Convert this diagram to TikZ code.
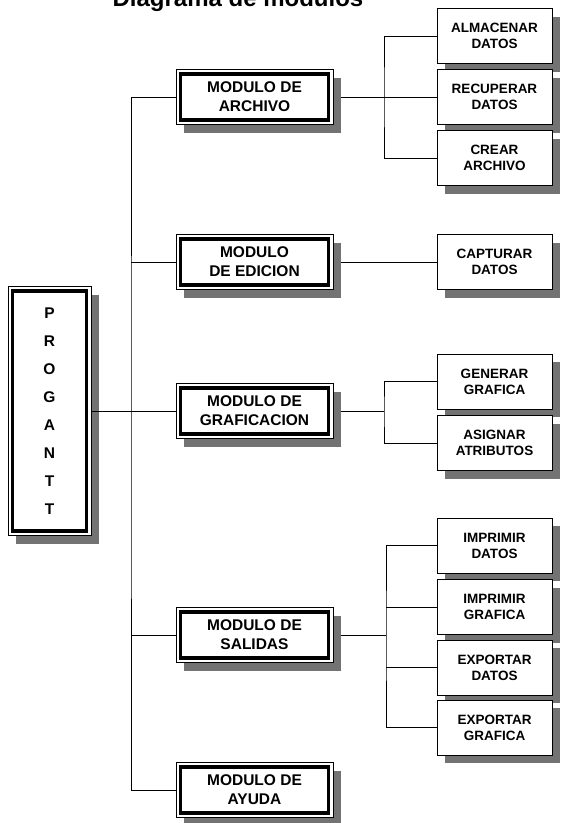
\documentclass[tikz,border=0pt]{standalone}
\usepackage{fontspec}
\setmainfont{Liberation Sans}
\usetikzlibrary{shadows}
\begin{document}
\begin{tikzpicture}[x=1pt,y=-1pt,
 shd/.style={general shadow={fill=black!55, shadow xshift=8pt, shadow yshift=-8pt}},
 leaf/.style={draw, line width=1pt, fill=white, minimum width=115pt, minimum height=55pt, inner sep=0pt, align=center, font=\fontsize{13.5}{16}\selectfont\bfseries, shd},
 mod/.style={draw, line width=0.8pt, fill=white, minimum width=157pt, minimum height=55pt, inner sep=0pt, align=center, font=\fontsize{15.5}{19}\selectfont\bfseries, shd,
   path picture={\draw[line width=3.2pt] ([xshift=4.5pt,yshift=-4.5pt]path picture bounding box.north west) rectangle ([xshift=-4.5pt,yshift=4.5pt]path picture bounding box.south east);}},
 conn/.style={line width=1pt}]
\useasboundingbox (0,0) rectangle (561,823);

\node[font=\fontsize{24}{28}\selectfont\bfseries, anchor=base] (title) at (238,6.5) {Diagrama de modulos};

\node[mod, minimum width=83pt, minimum height=249pt, font=\fontsize{15.5}{28}\selectfont\bfseries] (prog) at (49.5,411) {P\\R\\O\\G\\A\\N\\T\\T};

\node[mod] (arch) at (254.5,97) {MODULO DE\\ARCHIVO};
\node[mod] (edic) at (254.5,262) {MODULO\\DE EDICION};
\node[mod] (graf) at (254.5,411) {MODULO DE\\GRAFICACION};
\node[mod] (sal) at (254.5,635) {MODULO DE\\SALIDAS};
\node[mod] (ayuda) at (254.5,790) {MODULO DE\\AYUDA};

\node[leaf] (alm) at (494.5,36) {ALMACENAR\\DATOS};
\node[leaf] (recup) at (494.5,97) {RECUPERAR\\DATOS};
\node[leaf] (crear) at (494.5,158) {CREAR\\ARCHIVO};
\node[leaf] (capt) at (494.5,262) {CAPTURAR\\DATOS};
\node[leaf] (gen) at (494.5,381.5) {GENERAR\\GRAFICA};
\node[leaf] (asig) at (494.5,443) {ASIGNAR\\ATRIBUTOS};
\node[leaf] (impd) at (494.5,545.5) {IMPRIMIR\\DATOS};
\node[leaf] (impg) at (494.5,607) {IMPRIMIR\\GRAFICA};
\node[leaf] (expd) at (494.5,667.5) {EXPORTAR\\DATOS};
\node[leaf] (expg) at (494.5,727.5) {EXPORTAR\\GRAFICA};

\coordinate (trunk) at (131,411);
\coordinate (bA) at (384,97);
\coordinate (bG) at (384,411);
\coordinate (bS) at (386,635);

\draw[conn] (prog.east) -- (graf.west);
\draw[conn] (arch.west) -| (trunk) |- (ayuda.west);
\draw[conn] (edic.west) -- (edic.west -| trunk);
\draw[conn] (sal.west) -- (sal.west -| trunk);

\draw[conn] ([xshift=8pt]arch.east) -- (bA);
\draw[conn] (alm.west) -| (bA) |- (crear.west);
\draw[conn] (recup.west) -- (recup.west -| bA);

\draw[conn] ([xshift=8pt]edic.east) -- (capt.west);

\draw[conn] ([xshift=8pt]graf.east) -- (bG);
\draw[conn] (gen.west) -| (bG) |- (asig.west);

\draw[conn] ([xshift=8pt]sal.east) -- (bS);
\draw[conn] (impd.west) -| (bS) |- (expg.west);
\draw[conn] (impg.west) -- (impg.west -| bS);
\draw[conn] (expd.west) -- (expd.west -| bS);
\end{tikzpicture}
\end{document}
